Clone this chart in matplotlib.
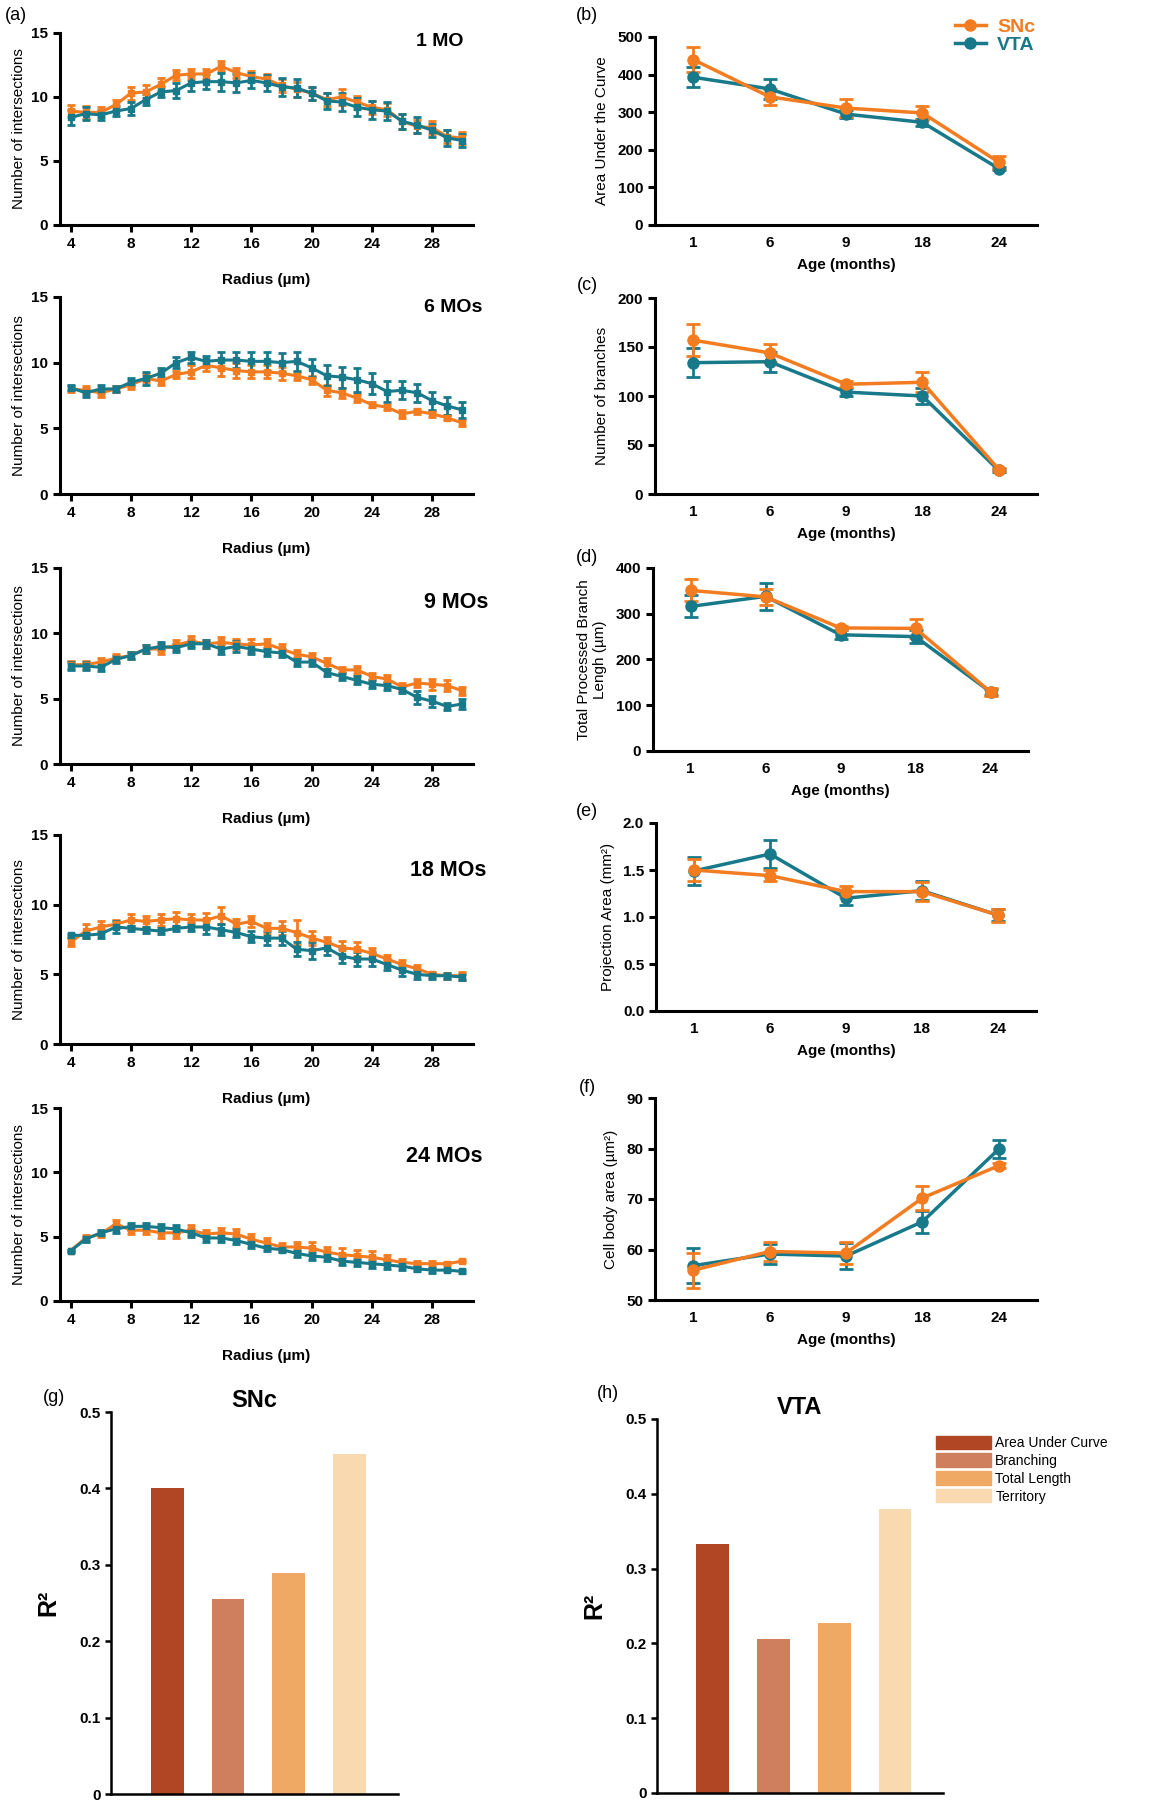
import numpy as np
import matplotlib
matplotlib.use('Agg')
import matplotlib.pyplot as plt
from matplotlib.patches import Patch
from matplotlib.lines import Line2D
from matplotlib.ticker import FormatStrFormatter

plt.rcParams['font.family'] = ['Liberation Sans', 'DejaVu Sans']

W, H = 1166, 1800
ORANGE = '#F47C20'
TEAL = '#17798A'

# ---- Sholl data (radius 4..30 um) ----
radius = list(range(4, 31))

sholl_titles = ['1 MO', '6 MOs', '9 MOs', '18 MOs', '24 MOs']

snc_1 = [8.9, 8.8, 8.8, 9.4, 10.3, 10.4, 11.0, 11.7, 11.8, 11.8, 12.4, 11.9, 11.6, 11.4,
         10.9, 10.6, 10.3, 9.8, 10.0, 9.6, 9.2, 9.0, 8.1, 7.7, 7.6, 6.9, 6.8]
vta_1 = [8.4, 8.7, 8.6, 8.9, 9.1, 9.8, 10.4, 10.5, 11.1, 11.2, 11.2, 11.1, 11.3, 11.1,
         10.8, 10.7, 10.3, 9.7, 9.6, 9.2, 9.0, 8.9, 8.1, 7.8, 7.4, 6.8, 6.6]
snc_1_err = [0.5, 0.5, 0.4, 0.4, 0.5, 0.5, 0.5, 0.4, 0.4, 0.4, 0.4, 0.4, 0.4, 0.4,
             0.5, 0.6, 0.5, 0.5, 0.6, 0.5, 0.5, 0.5, 0.6, 0.5, 0.5, 0.5, 0.5]
vta_1_err = [0.6, 0.5, 0.4, 0.4, 0.5, 0.4, 0.4, 0.6, 0.6, 0.6, 0.7, 0.7, 0.6, 0.6,
             0.7, 0.7, 0.5, 0.6, 0.7, 0.7, 0.7, 0.7, 0.6, 0.6, 0.5, 0.6, 0.5]

snc_6 = [8.0, 7.9, 7.7, 8.0, 8.3, 8.8, 8.6, 9.1, 9.3, 9.8, 9.6, 9.4, 9.3, 9.3,
         9.2, 9.0, 8.7, 7.9, 7.7, 7.3, 6.8, 6.6, 6.1, 6.3, 6.1, 5.8, 5.4]
vta_6 = [8.1, 7.7, 8.0, 8.0, 8.5, 8.8, 9.2, 10.0, 10.4, 10.1, 10.2, 10.2, 10.1, 10.1,
         10.0, 10.1, 9.6, 9.0, 8.9, 8.7, 8.4, 7.8, 7.9, 7.7, 7.1, 6.7, 6.4]
snc_6_err = [0.2, 0.3, 0.3, 0.2, 0.3, 0.3, 0.3, 0.3, 0.5, 0.4, 0.6, 0.6, 0.5, 0.5,
             0.5, 0.3, 0.3, 0.4, 0.4, 0.3, 0.2, 0.2, 0.3, 0.2, 0.2, 0.2, 0.2]
vta_6_err = [0.2, 0.3, 0.3, 0.2, 0.3, 0.5, 0.4, 0.4, 0.4, 0.4, 0.6, 0.6, 0.7, 0.7,
             0.7, 0.7, 0.7, 0.8, 0.8, 0.9, 0.8, 0.8, 0.7, 0.7, 0.7, 0.7, 0.6]

snc_9 = [7.6, 7.6, 7.8, 8.1, 8.3, 8.8, 8.8, 9.1, 9.4, 9.2, 9.3, 9.2, 9.1, 9.2,
         8.8, 8.4, 8.2, 7.7, 7.2, 7.2, 6.7, 6.5, 5.9, 6.2, 6.1, 6.0, 5.6]
vta_9 = [7.5, 7.5, 7.4, 8.0, 8.3, 8.8, 9.0, 8.9, 9.2, 9.2, 8.8, 9.0, 8.8, 8.6,
         8.5, 7.8, 7.8, 7.0, 6.7, 6.4, 6.1, 6.0, 5.7, 5.1, 4.8, 4.4, 4.6]
snc_9_err = [0.3, 0.3, 0.3, 0.3, 0.3, 0.3, 0.4, 0.4, 0.4, 0.3, 0.4, 0.4, 0.5, 0.4,
             0.4, 0.3, 0.3, 0.4, 0.2, 0.3, 0.3, 0.3, 0.3, 0.3, 0.4, 0.4, 0.3]
vta_9_err = [0.3, 0.3, 0.3, 0.3, 0.3, 0.3, 0.3, 0.3, 0.3, 0.3, 0.4, 0.4, 0.4, 0.3,
             0.3, 0.3, 0.3, 0.3, 0.3, 0.3, 0.3, 0.3, 0.3, 0.5, 0.4, 0.3, 0.4]

snc_18 = [7.3, 8.1, 8.4, 8.6, 8.9, 8.8, 8.9, 9.0, 8.9, 8.9, 9.2, 8.6, 8.8, 8.3,
          8.3, 8.0, 7.6, 7.3, 6.9, 6.8, 6.5, 6.1, 5.7, 5.4, 5.0, 4.9, 4.9]
vta_18 = [7.8, 7.8, 7.9, 8.4, 8.3, 8.2, 8.1, 8.3, 8.4, 8.4, 8.2, 8.0, 7.7, 7.6,
          7.6, 6.8, 6.7, 6.9, 6.3, 6.1, 6.1, 5.7, 5.3, 5.0, 4.9, 4.9, 4.8]
snc_18_err = [0.3, 0.5, 0.4, 0.3, 0.4, 0.4, 0.4, 0.5, 0.4, 0.5, 0.6, 0.4, 0.4, 0.4,
              0.5, 0.9, 0.5, 0.4, 0.5, 0.5, 0.4, 0.3, 0.3, 0.3, 0.2, 0.2, 0.3]
vta_18_err = [0.1, 0.2, 0.3, 0.4, 0.2, 0.2, 0.2, 0.2, 0.3, 0.5, 0.4, 0.3, 0.4, 0.5,
              0.5, 0.5, 0.6, 0.5, 0.5, 0.5, 0.5, 0.4, 0.4, 0.3, 0.2, 0.2, 0.2]

snc_24 = [3.9, 4.9, 5.2, 6.0, 5.5, 5.5, 5.3, 5.3, 5.5, 5.2, 5.3, 5.2, 4.8, 4.5,
          4.2, 4.2, 4.1, 3.8, 3.6, 3.5, 3.4, 3.2, 3.0, 2.9, 2.9, 2.9, 3.1]
vta_24 = [3.9, 4.8, 5.3, 5.6, 5.8, 5.8, 5.7, 5.6, 5.3, 4.9, 4.9, 4.7, 4.4, 4.1,
          4.0, 3.7, 3.5, 3.4, 3.1, 3.0, 2.9, 2.8, 2.7, 2.5, 2.4, 2.4, 2.3]
snc_24_err = [0.1, 0.2, 0.2, 0.3, 0.3, 0.3, 0.4, 0.4, 0.4, 0.3, 0.4, 0.4, 0.4, 0.4,
              0.3, 0.4, 0.5, 0.4, 0.5, 0.5, 0.5, 0.4, 0.3, 0.2, 0.2, 0.1, 0.1]
vta_24_err = [0.1, 0.2, 0.2, 0.3, 0.3, 0.3, 0.3, 0.3, 0.3, 0.3, 0.3, 0.3, 0.3, 0.2,
              0.2, 0.3, 0.3, 0.3, 0.3, 0.3, 0.3, 0.3, 0.3, 0.2, 0.2, 0.1, 0.1]

# ---- morphometrics vs age ----
ages = ['1', '6', '9', '18', '24']

auc_snc = [440, 341, 311, 298, 167]
auc_snc_err = [33, 22, 25, 18, 17]
auc_vta = [393, 362, 295, 273, 150]
auc_vta_err = [27, 27, 10, 10, 5]

br_snc = [157, 144, 112, 114, 25]
br_snc_err = [16, 9, 3, 10, 2]
br_vta = [134, 135, 104, 100, 24]
br_vta_err = [15, 10, 4, 8, 2]

len_snc = [351, 337, 269, 268, 129]
len_snc_err = [24, 18, 5, 21, 8]
len_vta = [316, 338, 254, 250, 129]
len_vta_err = [24, 30, 10, 14, 6]

proj_snc = [1.50, 1.44, 1.27, 1.27, 1.02]
proj_snc_err = [0.12, 0.06, 0.06, 0.10, 0.07]
proj_vta = [1.49, 1.67, 1.20, 1.28, 1.02]
proj_vta_err = [0.15, 0.15, 0.07, 0.10, 0.06]

cell_snc = [55.9, 59.6, 59.3, 70.2, 76.6]
cell_snc_err = [3.5, 1.8, 2.2, 2.4, 0.5]
cell_vta = [56.8, 59.1, 58.7, 65.5, 79.9]
cell_vta_err = [3.5, 2.0, 2.5, 2.2, 1.8]

# ---- R^2 bars ----
bar_labels = ['Area Under Curve', 'Branching', 'Total Length', 'Territory']
bar_colors = ['#B14624', '#CF7E5E', '#F0A965', '#F9D9B0']
r2_snc = [0.400, 0.255, 0.289, 0.445]
r2_vta = [0.333, 0.206, 0.227, 0.380]


def box(x0, y0, x1, y1):
    # pixel box (top-left origin) -> figure fraction rect
    return [x0 / W, 1 - y1 / H, (x1 - x0) / W, (y1 - y0) / H]


def ftext(x, y, s, **kw):
    fig.text(x / W, 1 - y / H, s, **kw)


def style(ax, lw=2.2):
    for s in ['top', 'right']:
        ax.spines[s].set_visible(False)
    for s in ['left', 'bottom']:
        ax.spines[s].set_linewidth(lw)
    ax.tick_params(width=lw, length=5, labelsize=11)
    for lab in ax.get_xticklabels() + ax.get_yticklabels():
        lab.set_fontweight('bold')


fig = plt.figure(figsize=(W / 100, H / 100), dpi=100)

# ---- left column: Sholl curves ----
sholl_boxes = [(60, 33, 473, 225), (60, 297, 473, 494), (60, 568, 473, 764),
               (60, 835, 473, 1044), (60, 1108, 473, 1301)]
sholl_title_pos = [(463, 42), (482, 308), (488, 602), (486, 871), (483, 1156)]
sholl_data = [(snc_1, snc_1_err, vta_1, vta_1_err),
              (snc_6, snc_6_err, vta_6, vta_6_err),
              (snc_9, snc_9_err, vta_9, vta_9_err),
              (snc_18, snc_18_err, vta_18, vta_18_err),
              (snc_24, snc_24_err, vta_24, vta_24_err)]
title_sizes = [14, 14, 15.5, 15.5, 15.5]

for i, (b, d) in enumerate(zip(sholl_boxes, sholl_data)):
    ax = fig.add_axes(box(*b))
    s, se, v, ve = d
    ax.errorbar(radius, s, yerr=se, color=ORANGE, lw=2.2, marker='s', ms=4,
                capsize=3, capthick=2, elinewidth=2)
    ax.errorbar(radius, v, yerr=ve, color=TEAL, lw=2.2, marker='s', ms=4,
                capsize=3, capthick=2, elinewidth=2)
    ax.set_xlim(3.3, 30.7)
    ax.set_ylim(0, 15)
    ax.set_xticks([4, 8, 12, 16, 20, 24, 28])
    ax.set_yticks([0, 5, 10, 15])
    ax.set_xlabel('Radius (µm)', fontsize=11, fontweight='bold', labelpad=16)
    ax.set_ylabel('Number of intersections', fontsize=11, labelpad=4)
    style(ax)
    tx, ty = sholl_title_pos[i]
    ftext(tx, ty, sholl_titles[i], ha='right', va='center', fontsize=title_sizes[i],
          fontweight='bold')

# ---- right column: age plots ----
age_panels = [
    ((655, 37, 1037, 225), auc_snc, auc_snc_err, auc_vta, auc_vta_err,
     (0, 500), [0, 100, 200, 300, 400, 500], 'Area Under the Curve'),
    ((655, 298, 1037, 494), br_snc, br_snc_err, br_vta, br_vta_err,
     (0, 200), [0, 50, 100, 150, 200], 'Number of branches'),
    ((653, 568, 1028, 751), len_snc, len_snc_err, len_vta, len_vta_err,
     (0, 400), [0, 100, 200, 300, 400], 'Total Processed Branch\nLengh (µm)'),
    ((656, 823, 1036, 1011), proj_snc, proj_snc_err, proj_vta, proj_vta_err,
     (0, 2.0), [0, 0.5, 1.0, 1.5, 2.0], 'Projection Area (mm²)'),
    ((655, 1098, 1037, 1300), cell_snc, cell_snc_err, cell_vta, cell_vta_err,
     (50, 90), [50, 60, 70, 80, 90], 'Cell body area (µm²)'),
]
age_x = np.arange(len(ages))

for j, (b, s, se, v, ve, yl, yt, ylab) in enumerate(age_panels):
    ax = fig.add_axes(box(*b))
    ax.errorbar(age_x, v, yerr=ve, color=TEAL, lw=2.5, marker='o', ms=8,
                capsize=5, capthick=2, elinewidth=2)
    ax.errorbar(age_x, s, yerr=se, color=ORANGE, lw=2.5, marker='o', ms=8,
                capsize=5, capthick=2, elinewidth=2)
    ax.set_xlim(-0.5, 4.5)
    ax.set_ylim(*yl)
    ax.set_yticks(yt)
    ax.set_xticks(age_x)
    ax.set_xticklabels(ages)
    if j == 3:
        ax.yaxis.set_major_formatter(FormatStrFormatter('%.1f'))
    ax.set_xlabel('Age (months)', fontsize=11, fontweight='bold', labelpad=6)
    ax.set_ylabel(ylab, fontsize=11, labelpad=6)
    style(ax)
    ax.tick_params(axis='x', length=0, pad=8)
    if j == 0:
        handles = [Line2D([], [], color=ORANGE, lw=2.5, marker='o', ms=8),
                   Line2D([], [], color=TEAL, lw=2.5, marker='o', ms=8)]
        leg = ax.legend(handles, ['SNc', 'VTA'], loc='center',
                        bbox_to_anchor=(995 / W, 1 - 36 / H),
                        bbox_transform=fig.transFigure, frameon=False,
                        handlelength=1.6, handletextpad=0.6, labelspacing=0.05,
                        prop={'weight': 'bold', 'size': 14})
        for t, c in zip(leg.get_texts(), [ORANGE, TEAL]):
            t.set_color(c)

# ---- bottom: R^2 bars ----
bar_x = np.arange(len(bar_labels))
for k, (b, vals, ttl) in enumerate([((111, 1412, 398, 1794), r2_snc, 'SNc'),
                                    ((657, 1419, 943, 1793), r2_vta, 'VTA')]):
    ax = fig.add_axes(box(*b))
    ax.bar(bar_x, vals, width=0.54, color=bar_colors)
    ax.set_xlim(-0.92, 3.79)
    ax.set_ylim(0, 0.5)
    ax.set_xticks([])
    ax.set_yticks([0, 0.1, 0.2, 0.3, 0.4, 0.5])
    ax.set_yticklabels(['0', '0.1', '0.2', '0.3', '0.4', '0.5'])
    ax.set_title(ttl, fontsize=17, fontweight='bold', pad=2)
    style(ax, lw=1.8)
    ax.tick_params(axis='y', length=4, labelsize=11)
    ax.set_ylabel('R²', fontsize=18, fontweight='bold', labelpad=14)
    if k == 1:
        handles = [Patch(facecolor=c, edgecolor=c) for c in bar_colors]
        ax.legend(handles, bar_labels, loc='upper left',
                  bbox_to_anchor=(930 / W, 1 - 1430 / H), bbox_transform=fig.transFigure,
                  frameon=False, fontsize=10, handlelength=4.0, handleheight=1.1,
                  handletextpad=0.3, labelspacing=0.25, borderaxespad=0)

# ---- panel letters ----
for lab, x, y in [('(a)', 16, 16), ('(b)', 587, 16), ('(c)', 587, 286),
                  ('(d)', 587, 557), ('(e)', 587, 812), ('(f)', 587, 1088),
                  ('(g)', 54, 1398), ('(h)', 608, 1393)]:
    ftext(x, y, lab, ha='center', va='center', fontsize=13)

fig.savefig('out.png', dpi=100)
